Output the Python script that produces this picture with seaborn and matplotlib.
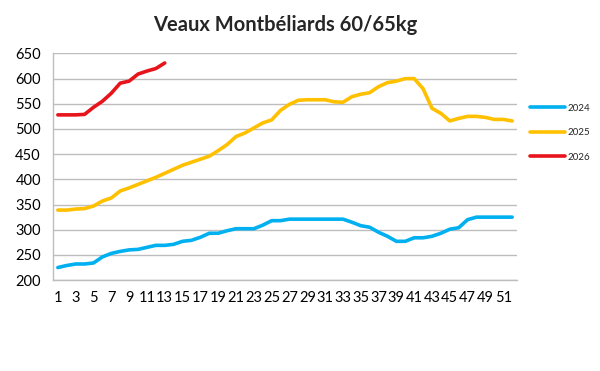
import matplotlib
matplotlib.use("Agg")
import matplotlib.pyplot as plt
import pandas as pd
import seaborn as sns

weeks = list(range(1, 53))

prix_2024 = [225, 229, 232, 232, 234, 246, 253, 257, 260, 261, 265, 269, 269, 271,
             277, 279, 285, 293, 293, 298, 302, 302, 302, 309, 318, 318, 321, 321,
             321, 321, 321, 321, 321, 315, 308, 305, 295, 287, 277, 277, 284, 284,
             287, 293, 301, 304, 320, 325, 325, 325, 325, 325]
prix_2025 = [339, 339, 341, 342, 347, 357, 363, 377, 383, 390, 397, 404, 412, 420,
             428, 434, 440, 446, 457, 469, 485, 492, 502, 512, 518, 537, 549, 557,
             558, 558, 558, 554, 553, 564, 569, 572, 584, 592, 595, 600, 600, 580,
             541, 531, 516, 521, 525, 525, 523, 519, 519, 516]
prix_2026 = [528, 528, 528, 529, 543, 555, 571, 591, 595, 609, 615, 620, 631]

years = ["2024", "2025", "2026"]
colors = ["#00B0F0", "#FFC000", "#E8141B"]

rows = []
for year, values in zip(years, [prix_2024, prix_2025, prix_2026]):
    for week, value in zip(weeks, values):
        rows.append({"semaine": week, "prix": value, "annee": year})
df = pd.DataFrame(rows)

sns.set_theme(style="white")
plt.rcParams["font.family"] = ["Lato", "DejaVu Sans"]

fig = plt.figure(figsize=(6, 3.71), dpi=100)
ax = fig.add_axes([0.089, 0.245, 0.772, 0.611])

sns.lineplot(data=df, x="semaine", y="prix", hue="annee", palette=colors,
             linewidth=2.6, ax=ax, legend=True)

ax.set_xlim(0.5, 52.5)
ax.set_ylim(200, 650)
ax.set_yticks(range(200, 651, 50))
ax.set_xticks(range(1, 52, 2))
ax.tick_params(axis="both", labelsize=10.5, length=0, colors="black")
ax.tick_params(axis="y", pad=9)
ax.tick_params(axis="x", pad=8)
ax.yaxis.grid(True, color="#BDBDBD", linewidth=1)
ax.set_axisbelow(True)
for side in ["top", "right"]:
    ax.spines[side].set_visible(False)
for side in ["left", "bottom"]:
    ax.spines[side].set_color("#BDBDBD")
    ax.spines[side].set_linewidth(1)
ax.set_xlabel("")
ax.set_ylabel("")

leg = ax.legend(loc="center left", bbox_to_anchor=(1.01, 0.65), frameon=False,
                fontsize=7, handlelength=3.6, labelspacing=1.6, handletextpad=0.3)
for line in leg.get_lines():
    line.set_linewidth(2.6)

fig.text(0.476, 0.932, "Veaux Montbéliards 60/65kg", ha="center", va="center",
         fontsize=14.5, fontweight="bold")

fig.savefig("out.png", dpi=100)
